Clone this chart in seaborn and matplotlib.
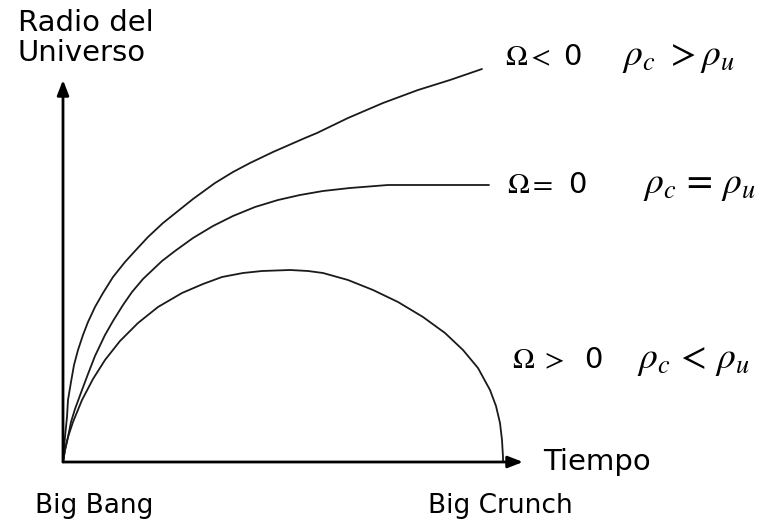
import numpy as np
import pandas as pd
import seaborn as sns
import matplotlib.pyplot as plt

sns.set_style("white")
plt.rcParams["font.family"] = ["DejaVu Sans"]
plt.rcParams["mathtext.fontset"] = "stix"
plt.rcParams["text.color"] = "black"

# curves (time, radius), origin = Big Bang
abierto_t = [0, 1, 2, 4, 5, 8, 11, 15, 20, 25, 32, 40, 50, 62, 72, 85, 100, 115,
             130, 152, 170, 187, 210, 242, 254, 285, 320, 355, 387, 419]
abierto_r = [0, 12, 25, 45, 62, 80, 97, 112, 127, 140, 155, 169, 185, 200, 211, 225,
             239, 251, 263, 279, 290, 299, 310, 324, 329, 344, 359, 372, 382, 393]

plano_t = [0, 2, 5, 8, 12, 19, 25, 32, 42, 50, 60, 69, 80, 99, 112, 130, 150, 170,
           192, 215, 237, 260, 287, 325, 380, 426]
plano_r = [0, 12, 25, 40, 53, 72, 88, 106, 127, 141, 157, 170, 183, 201, 211, 224,
           236, 246, 255, 262, 267, 271, 274, 277, 277, 277]

cerrado_t = [0, 2, 5, 10, 19, 30, 42, 57, 75, 95, 119, 140, 159, 180, 199, 227, 245,
             260, 285, 310, 335, 360, 382, 400, 415, 427, 433, 437, 439, 440, 440]
cerrado_r = [0, 12, 25, 40, 62, 83, 102, 121, 139, 155, 169, 178, 185, 189, 191, 192,
             191, 189, 182, 172, 160, 145, 129, 112, 94, 72, 56, 39, 22, 5, 0]

curvas = pd.concat([
    pd.DataFrame({"t": abierto_t, "r": abierto_r, "caso": "abierto"}),
    pd.DataFrame({"t": plano_t, "r": plano_r, "caso": "plano"}),
    pd.DataFrame({"t": cerrado_t, "r": cerrado_r, "caso": "cerrado"}),
])

# axis extents
t_max = 460
r_max = 382

fig = plt.figure(figsize=(7.77, 5.23), dpi=100)
ax = fig.add_axes([0, 0, 1, 1])
ax.set_xlim(-63, 714)
ax.set_ylim(-61, 462)
ax.axis("off")

for caso, g in curvas.groupby("caso", sort=False):
    sns.lineplot(data=g, x="t", y="r", sort=False, estimator=None,
                 color="#1a1a1a", lw=1.3, ax=ax, legend=False)

arrow = dict(arrowstyle="-|>,head_length=0.9,head_width=0.35", lw=2,
             color="black", shrinkA=0, shrinkB=0)
ax.annotate("", xy=(0, r_max), xytext=(0, 0), arrowprops=arrow)
ax.annotate("", xy=(t_max, 0), xytext=(0, 0), arrowprops=arrow)

ax.text(-45, 453, "Radio del\nUniverso", fontsize=21, va="top", ha="left",
        linespacing=1.1)
ax.text(480, 0, "Tiempo", fontsize=21, va="center", ha="left")
ax.text(-28, -44, "Big Bang", fontsize=19, va="center", ha="left")
ax.text(365, -44, "Big Crunch", fontsize=19, va="center", ha="left")

# Omega / density labels
ax.text(442, 405, r"$\Omega<$", fontsize=21, va="center", ha="left")
ax.text(500, 405, "0", fontsize=21, va="center", ha="left")
ax.text(559, 405, r"$\rho_c\ >\rho_u$", fontsize=27, va="center", ha="left")

ax.text(444, 277, r"$\Omega=$", fontsize=21, va="center", ha="left")
ax.text(505, 277, "0", fontsize=21, va="center", ha="left")
ax.text(580, 277, r"$\rho_c\,=\,\rho_u$", fontsize=27, va="center", ha="left")

ax.text(449, 102, r"$\Omega\ >$", fontsize=21, va="center", ha="left")
ax.text(521, 102, "0", fontsize=21, va="center", ha="left")
ax.text(574, 102, r"$\rho_c\,<\,\rho_u$", fontsize=27, va="center", ha="left")

fig.savefig("out.png", dpi=100)
